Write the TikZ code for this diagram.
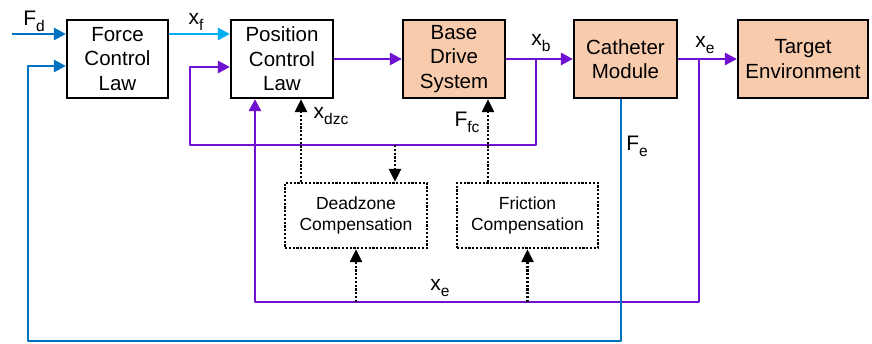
\documentclass[tikz,border=0pt]{standalone}
\usepackage{fontspec}
\setmainfont{Liberation Sans}
\usetikzlibrary{arrows.meta, positioning}
\definecolor{peach}{RGB}{248,203,173}
\definecolor{fblue}{RGB}{0,112,192}
\definecolor{skyblue}{RGB}{0,176,240}
\definecolor{sigpurple}{RGB}{112,16,208}
% signal name with a lowered subscript
\newcommand{\signame}[2]{#1\raisebox{-6pt}{\fontsize{15.5}{16}\selectfont #2}}

\begin{document}
\begin{tikzpicture}[x=1pt, y=-1pt,
	block/.style={draw, line width=2.2pt, minimum height=78pt, inner sep=0pt, align=center, font=\fontsize{20.5}{24.5}\selectfont},
	plant/.style={block, fill=peach},
	comp/.style={draw, line width=2.4pt, dash pattern=on 2.2pt off 1.6pt, minimum height=65pt, inner sep=0pt, align=center, font=\fontsize{17.5}{21}\selectfont},
	sig/.style={line width=2.8pt, -{Triangle[length=12pt, width=12pt]}},
	aux/.style={line width=2.4pt, dash pattern=on 2.2pt off 1.6pt, -{Triangle[length=13pt, width=12pt]}},
	lbl/.style={inner sep=0pt, font=\fontsize{21}{24}\selectfont}]
	\useasboundingbox (0,0) rectangle (872,343);

	% blocks
	\node[block, minimum width=101pt] (fcl) at (117.5,59) {Force\\Control\\Law};
	\node[block, minimum width=102pt] (pcl) at (282,59) {Position\\Control\\Law};
	\node[plant, minimum width=102pt] (bds) at (454,59) {Base\\Drive\\System};
	\node[plant, minimum width=103pt] (cm) at (625.5,59) {Catheter\\Module};
	\node[plant, minimum width=130pt] (te) at (803,59) {Target\\Environment};
	\node[comp, minimum width=142pt] (dz) at (356,215.5) {Deadzone\\Compensation};
	\node[comp, minimum width=141pt] (fr) at (527.5,215.5) {Friction\\Compensation};

	% branch points and corners
	\coordinate (fdin) at (12,34);
	\coordinate (xb) at (536,59);
	\coordinate (xe) at (699,59);
	\coordinate (fbA) at (190,145);
	\coordinate (fbB) at (255,302);
	\coordinate (fbC) at (28,341);

	% forward path
	\draw[sig, fblue] (fdin) -- (fdin -| fcl.west);
	\draw[sig, skyblue] (fcl.east |- fdin) -- (pcl.west |- fdin);
	\draw[sig, sigpurple] (pcl.east) -- (bds.west);
	\draw[sig, sigpurple] (bds.east) -- (cm.west);
	\draw[sig, sigpurple] (cm.east) -- (te.west);

	% feedback loops
	\draw[sig, sigpurple, line join=round] (xb) |- (fbA) |- ([yshift=-8pt]pcl.west);
	\draw[sig, sigpurple, line join=round] (xe) |- (fbB) -- (fbB |- pcl.south);
	\draw[sig, fblue, line join=round] ([xshift=-4.5pt]cm.south) |- (fbC) |- ([yshift=-7pt]fcl.west);

	% compensation paths
	\draw[aux] ([xshift=-55pt]dz.north) -- ([xshift=-55pt]dz.north |- pcl.south);
	\draw[aux] ([xshift=39pt]dz.north |- fbA) -- ([xshift=39pt]dz.north);
	\draw[aux] ([xshift=-39.5pt]fr.north) -- ([xshift=-39.5pt]fr.north |- bds.south);
	\draw[aux] (dz.south |- fbB) -- (dz.south);
	\draw[aux] (fr.south |- fbB) -- (fr.south);

	% labels
	\node[lbl] (lfd) at (34,21) {\signame{F}{d}};
	\node[lbl] (lxf) at (196,22) {\signame{x}{f}};
	\node[lbl] (lxdzc) at (331,116) {\signame{x}{dzc}};
	\node[lbl] (lxb) at (541,43) {\signame{x}{b}};
	\node[lbl] (lffc) at (467,122) {\signame{F}{fc}};
	\node[lbl] (lxe) at (705,45) {\signame{x}{e}};
	\node[lbl] (lfe) at (637,146) {\signame{F}{e}};
	\node[lbl] (lxeb) at (440,288) {\signame{x}{e}};
\end{tikzpicture}
\end{document}
